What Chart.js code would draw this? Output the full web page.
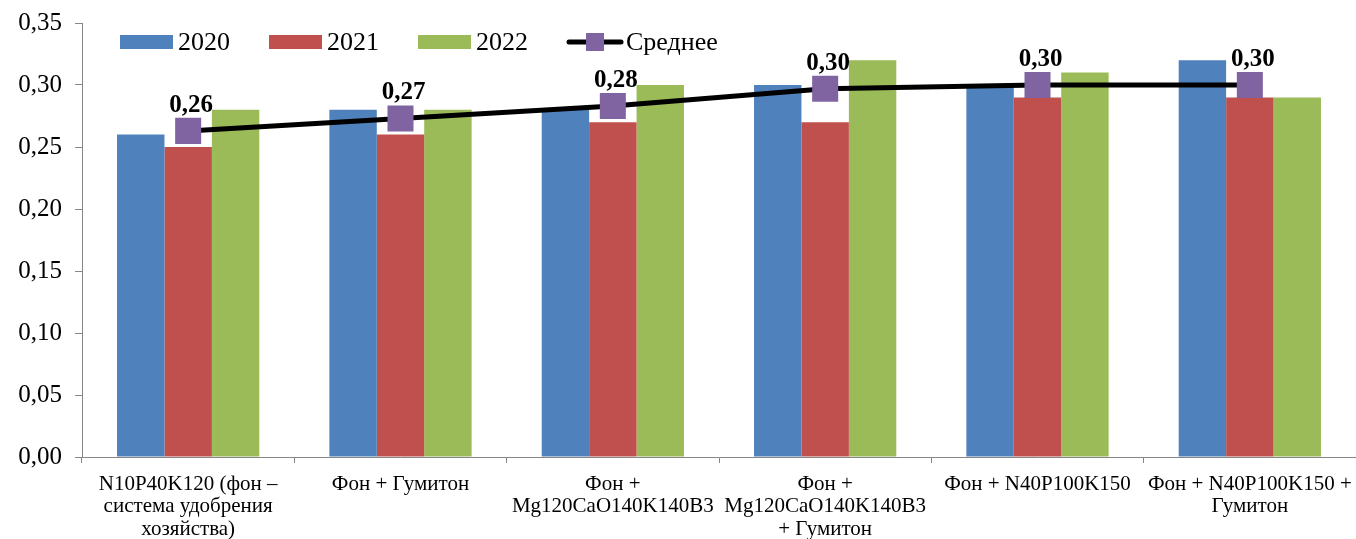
<!DOCTYPE html>
<html>
<head>
<meta charset="utf-8">
<script src="https://cdn.jsdelivr.net/npm/chart.js@4.4.0/dist/chart.umd.min.js"></script>
<style>
  html, body { margin: 0; padding: 0; background: #ffffff; overflow: hidden; }
  #wrap { width: 1356px; height: 539px; position: relative; }
  #chart { display: block; }
</style>
</head>
<body>
<div id="wrap"><canvas id="chart"></canvas></div>
<script>
// Treatments (x categories)
const categories = [
  ["N10P40K120 (фон –", "система удобрения", "хозяйства)"],
  "Фон + Гумитон",
  ["Фон +", "Mg120CaO140K140B3"],
  ["Фон +", "Mg120CaO140K140B3", "+ Гумитон"],
  "Фон + N40P100K150",
  ["Фон + N40P100K150 +", "Гумитон"]
];

// Yearly values
const seriesNames = ["2020", "2021", "2022", "Среднее"];
const values2020 = [0.26, 0.28, 0.28, 0.30, 0.30, 0.32];
const values2021 = [0.25, 0.26, 0.27, 0.27, 0.29, 0.29];
const values2022 = [0.28, 0.28, 0.30, 0.32, 0.31, 0.29];
const valuesMean = [0.263, 0.273, 0.283, 0.297, 0.300, 0.300];

// Y axis range
const yMin = 0;
const yMax = 0.35;
const yStep = 0.05;

const colors = {
  c2020: "#4F81BD",
  c2021: "#C0504D",
  c2022: "#9BBB59",
  mean: "#8064A2",
  line: "#000000",
  axis: "#868686"
};

const SERIF = "'Liberation Serif', 'Times New Roman', serif";

const fmt = v => v.toFixed(2).replace(".", ",");

// Legend drawn inside the plot area, top-left
const innerLegend = {
  id: "innerLegend",
  afterDraw(chart) {
    const ctx = chart.ctx;
    const area = chart.chartArea;
    const cy = area.top + 19;
    let x = area.left + 38;
    ctx.save();
    ctx.font = "26px " + SERIF;
    ctx.textBaseline = "middle";
    ctx.textAlign = "left";
    const boxW = 53, boxH = 14, gap = 5, spacing = 39;
    chart.data.datasets.forEach(ds => {
      if (ds.type === "line") {
        ctx.strokeStyle = colors.line;
        ctx.lineWidth = 5;
        ctx.lineCap = "round";
        ctx.beginPath();
        ctx.moveTo(x + 2, cy);
        ctx.lineTo(x + 54, cy);
        ctx.stroke();
        ctx.fillStyle = colors.mean;
        ctx.fillRect(x + 19, cy - 9, 18, 18);
        ctx.fillStyle = "#000";
        ctx.fillText(ds.label, x + 59, cy + 1);
        x += 59 + ctx.measureText(ds.label).width + spacing;
      } else {
        ctx.fillStyle = ds.backgroundColor;
        ctx.fillRect(x, cy - boxH / 2, boxW, boxH);
        ctx.fillStyle = "#000";
        ctx.fillText(ds.label, x + boxW + gap, cy + 1);
        x += boxW + gap + ctx.measureText(ds.label).width + spacing;
      }
    });
    ctx.restore();
  }
};

// Value labels above the mean markers
const meanLabels = {
  id: "meanLabels",
  afterDatasetsDraw(chart) {
    const ctx = chart.ctx;
    const idx = chart.data.datasets.findIndex(d => d.type === "line");
    const meta = chart.getDatasetMeta(idx);
    const data = chart.data.datasets[idx].data;
    ctx.save();
    ctx.font = "bold 25px " + SERIF;
    ctx.fillStyle = "#000";
    ctx.textAlign = "center";
    ctx.textBaseline = "alphabetic";
    meta.data.forEach((pt, i) => {
      ctx.fillText(fmt(data[i]), pt.x + 3, pt.y - 19);
    });
    ctx.restore();
  }
};

new Chart(document.getElementById("chart"), {
  data: {
    labels: categories,
    datasets: [
      { type: "bar", label: seriesNames[0], data: values2020, backgroundColor: colors.c2020, order: 1 },
      { type: "bar", label: seriesNames[1], data: values2021, backgroundColor: colors.c2021, order: 1 },
      { type: "bar", label: seriesNames[2], data: values2022, backgroundColor: colors.c2022, order: 1 },
      {
        type: "line", label: seriesNames[3], data: valuesMean, order: 0,
        borderColor: colors.line, borderWidth: 5, tension: 0,
        pointStyle: "rect", pointRadius: 18.4, pointHoverRadius: 18.4,
        pointBackgroundColor: colors.mean, pointBorderColor: colors.mean, pointBorderWidth: 0
      }
    ]
  },
  options: {
    responsive: true,
    maintainAspectRatio: false,
    animation: false,
    devicePixelRatio: 1,
    layout: { autoPadding: false, padding: { top: 23, right: 0, bottom: 0, left: 0 } },
    datasets: {
      bar: { categoryPercentage: 0.67, barPercentage: 1.0, borderWidth: 0 }
    },
    plugins: {
      legend: { display: false },
      tooltip: { enabled: false }
    },
    scales: {
      x: {
        grid: { display: true, drawOnChartArea: false, drawTicks: true, tickLength: 6, color: colors.axis, offset: true },
        border: { display: true, color: colors.axis, width: 1 },
        ticks: {
          color: "#000", maxRotation: 0, minRotation: 0, autoSkip: false, padding: 10,
          font: { family: SERIF, size: 21, lineHeight: 1.07 }
        },
        afterFit(scale) {
          scale.height = 82;
          scale.paddingLeft = 0;
          scale.paddingRight = 0;
        }
      },
      y: {
        min: yMin, max: yMax,
        grid: { display: true, drawOnChartArea: false, drawTicks: true, tickLength: 7, color: colors.axis },
        border: { display: true, color: colors.axis, width: 1 },
        ticks: {
          stepSize: yStep, color: "#000", padding: 13,
          font: { family: SERIF, size: 25 },
          callback: v => fmt(v)
        },
        afterFit(scale) {
          scale.width = 82;
          scale.paddingTop = 0;
          scale.paddingBottom = 0;
        }
      }
    }
  },
  plugins: [innerLegend, meanLabels]
});
</script>
</body>
</html>
